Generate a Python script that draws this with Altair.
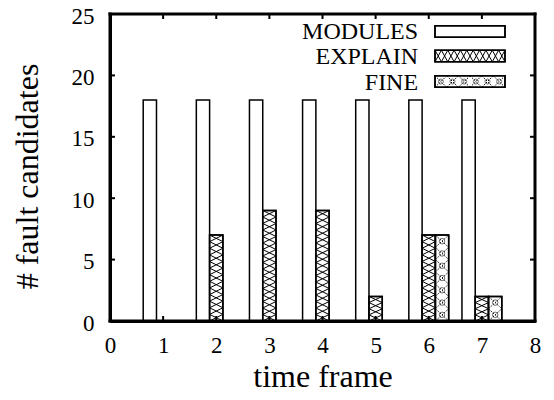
import altair as alt
import pandas as pd

# ---- data ----
time_frames = [1, 2, 3, 4, 5, 6, 7]
modules = [18, 18, 18, 18, 18, 18, 18]
explain = [0, 7, 9, 9, 2, 7, 2]
fine = [0, 0, 0, 0, 0, 7, 2]
series_names = ["MODULES", "EXPLAIN", "FINE"]
x_ticks = [0, 1, 2, 3, 4, 5, 6, 7, 8]
y_ticks = [0, 5, 10, 15, 20, 25]

# ---- layout / style constants ----
W, H = 425, 307
FONT = "Liberation Serif"
BAR_W = 0.25
OFFSETS = {"MODULES": -0.25, "EXPLAIN": 0.0, "FINE": 0.25}
XMAX, YMAX = 8, 25
px_y = H / YMAX

rows = []
for name, vals in zip(series_names, [modules, explain, fine]):
    for t, v in zip(time_frames, vals):
        c = t + OFFSETS[name]
        rows.append({"series": name, "t": t, "value": v,
                     "x0": c - BAR_W / 2, "x1": c + BAR_W / 2})
bars = pd.DataFrame(rows)

# hatch segments for EXPLAIN / FINE bars (derived from bar values)
def hatch_vertical(df, cell_px):
    segs = []
    for _, r in df.iterrows():
        if r["value"] <= 0:
            continue
        n = max(1, int(round(r["value"] * px_y / cell_px)))
        h = r["value"] / n
        for k in range(n):
            segs.append({"xa": r["x0"], "xb": r["x1"], "ya": k * h, "yb": (k + 1) * h})
            segs.append({"xa": r["x0"], "xb": r["x1"], "ya": (k + 1) * h, "yb": k * h})
    return segs

hatch_ex = pd.DataFrame(hatch_vertical(bars[bars.series == "EXPLAIN"], 6.5))
hatch_fi = pd.DataFrame(hatch_vertical(bars[bars.series == "FINE"], 13.0))
fine_dots = hatch_fi.iloc[::2].assign(xm=lambda d: (d.xa + d.xb) / 2, ym=lambda d: (d.ya + d.yb) / 2)

# legend (placed in data units at the top-right)
LEG_X0, LEG_X1, LEG_TX = 6.118, 7.435, 5.80
LEG_Y = [23.575, 21.58, 19.50]
LEG_HH = 0.468
legend = pd.DataFrame({"series": series_names, "yc": LEG_Y,
                       "y0": [y - LEG_HH for y in LEG_Y], "y1": [y + LEG_HH for y in LEG_Y]})

def hatch_horizontal(name, n):
    r = legend[legend.series == name].iloc[0]
    w = (LEG_X1 - LEG_X0) / n
    segs = []
    for k in range(n):
        xa, xb = LEG_X0 + k * w, LEG_X0 + (k + 1) * w
        segs.append({"xa": xa, "xb": xb, "ya": r.y0, "yb": r.y1})
        segs.append({"xa": xa, "xb": xb, "ya": r.y1, "yb": r.y0})
    return segs

leg_hatch_ex = pd.DataFrame(hatch_horizontal("EXPLAIN", 11))
leg_hatch_fi = pd.DataFrame(hatch_horizontal("FINE", 6))
leg_fi_dots = leg_hatch_fi.iloc[::2].assign(xm=lambda d: (d.xa + d.xb) / 2, ym=lambda d: (d.ya + d.yb) / 2)

# the four sides of the plot frame, in data units (domain corners)
frame_edges = pd.DataFrame({
    "xa": [0, 0, 0, XMAX], "xb": [XMAX, XMAX, 0, XMAX],
    "ya": [0, YMAX, 0, 0], "yb": [0, YMAX, YMAX, YMAX],
})

xs = alt.Scale(domain=[0, XMAX], nice=False, zero=False)
ys = alt.Scale(domain=[0, YMAX], nice=False)

FRAME = dict(domain=True, domainColor="black", domainWidth=3)

x_axis = alt.Axis(values=x_ticks, format="d", grid=False, ticks=False, **FRAME,
                  labelFont=FONT, labelFontSize=23, labelColor="black", labelPadding=13,
                  labelFlush=False, title="time frame", titleFont=FONT, titleFontSize=32,
                  titleFontWeight="normal", titleColor="black",
                  titleY=65, titleBaseline="alphabetic")
y_axis = alt.Axis(values=y_ticks, format="d", grid=False, ticks=False, **FRAME,
                  labelFont=FONT, labelFontSize=23, labelColor="black", labelPadding=16,
                  labelOffset=2, labelFlush=False,
                  title="# fault candidates", titleFont=FONT, titleFontSize=32,
                  titleFontWeight="normal", titleColor="black", titleX=-73, titleY=162,
                  titleAngle=-90, titleAlign="center", titleBaseline="alphabetic")

base_bar = alt.Chart(bars).mark_rect(stroke="black", strokeWidth=1.5, fill="white").encode(
    x=alt.X("x0:Q", scale=xs, axis=x_axis),
    x2="x1:Q",
    y=alt.Y("value:Q", scale=ys, axis=y_axis),
    y2=alt.datum(0),
)
bar_explain_fine = base_bar.transform_filter("datum.series != 'MODULES' && datum.value > 0")
bar_modules = base_bar.transform_filter("datum.series == 'MODULES'")

def seg(df, **kw):
    return alt.Chart(df).mark_rule(color="black", **kw).encode(
        x=alt.X("xa:Q", scale=xs), x2="xb:Q", y=alt.Y("ya:Q", scale=ys), y2="yb:Q")

h_ex = seg(hatch_ex, strokeWidth=1)
h_fi = seg(hatch_fi, strokeWidth=1, strokeDash=[1.5, 1.5])
d_fi = alt.Chart(fine_dots).mark_point(shape="circle", size=30, color="black", strokeWidth=0.8, filled=False).encode(
    x=alt.X("xm:Q", scale=xs), y=alt.Y("ym:Q", scale=ys))

outline = alt.Chart(bars).mark_rect(stroke="black", strokeWidth=1.5, fillOpacity=0).encode(
    x=alt.X("x0:Q", scale=xs), x2="x1:Q", y=alt.Y("value:Q", scale=ys), y2=alt.datum(0)
).transform_filter("datum.series != 'MODULES' && datum.value > 0")

# legend
leg_text = alt.Chart(legend).mark_text(font=FONT, fontSize=24, align="right", baseline="middle", color="black", dy=1).encode(
    x=alt.datum(LEG_TX), y=alt.Y("yc:Q", scale=ys), text="series:N")
leg_box = alt.Chart(legend).mark_rect(fill="white", stroke="black", strokeWidth=1.5).encode(
    x=alt.datum(LEG_X0), x2=alt.datum(LEG_X1), y=alt.Y("y0:Q", scale=ys), y2="y1:Q")
leg_h_ex = seg(leg_hatch_ex, strokeWidth=1)
leg_h_fi = seg(leg_hatch_fi, strokeWidth=1, strokeDash=[1.5, 1.5])
leg_d_fi = alt.Chart(leg_fi_dots).mark_point(shape="circle", size=25, color="black", strokeWidth=0.8, filled=False).encode(
    x=alt.X("xm:Q", scale=xs), y=alt.Y("ym:Q", scale=ys))
leg_outline = alt.Chart(legend).mark_rect(fillOpacity=0, stroke="black", strokeWidth=1.5).encode(
    x=alt.datum(LEG_X0), x2=alt.datum(LEG_X1), y=alt.Y("y0:Q", scale=ys), y2="y1:Q")

# inward ticks on all four sides
TK = 5
xt = pd.DataFrame({"v": x_ticks})
yt = pd.DataFrame({"v": y_ticks})
tick_b = alt.Chart(xt).mark_rule(color="black", strokeWidth=2).encode(
    x=alt.X("v:Q", scale=xs), y=alt.value(H), y2=alt.value(H - TK))
tick_t = alt.Chart(xt).mark_rule(color="black", strokeWidth=2).encode(
    x=alt.X("v:Q", scale=xs), y=alt.value(0), y2=alt.value(TK))
tick_l = alt.Chart(yt).mark_rule(color="black", strokeWidth=2).encode(
    y=alt.Y("v:Q", scale=ys), x=alt.value(0), x2=alt.value(TK))
tick_r = alt.Chart(yt).mark_rule(color="black", strokeWidth=2).encode(
    y=alt.Y("v:Q", scale=ys), x=alt.value(W), x2=alt.value(W - TK))

# frame drawn as four rule segments through the scales
frame = seg(frame_edges, strokeWidth=3, strokeCap="square")

chart = alt.layer(
    bar_modules, bar_explain_fine, h_ex, h_fi, d_fi, outline,
    leg_box, leg_h_ex, leg_h_fi, leg_d_fi, leg_outline, leg_text,
    tick_b, tick_t, tick_l, tick_r, frame,
).properties(
    width=W, height=H,
    autosize=alt.AutoSizeParams(type="none"),
    padding={"left": 102, "top": 6, "right": 11, "bottom": 71},
).configure(background="white")

chart.save("out.html", embed_options={"renderer": "svg", "actions": False})
